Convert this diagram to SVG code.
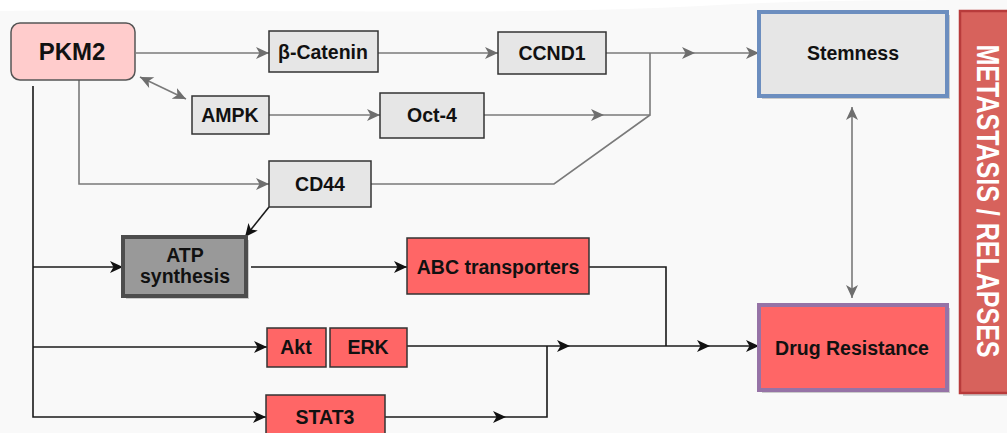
<svg xmlns="http://www.w3.org/2000/svg" width="1007" height="433" viewBox="0 0 1007 433">
<style>
.box{fill:#e6e6e6;stroke:#333;stroke-width:1.5}
.red{fill:#ff6666;stroke:#333;stroke-width:1.5}
.lbl{font-family:"Liberation Sans",Arial,sans-serif;font-weight:bold;font-size:19.5px;fill:#111;text-anchor:middle}
.g{fill:none;stroke:#7a7a7a;stroke-width:1.6}
.k{fill:none;stroke:#1a1a1a;stroke-width:1.6}
.ga{marker-end:url(#ag)}
.ka{marker-end:url(#ak)}
.shadow{fill:#b8b8b8;opacity:0.7}
</style>
<defs>
<marker id="ag" markerUnits="userSpaceOnUse" markerWidth="14" markerHeight="12" refX="13" refY="6" orient="auto">
<path d="M0,0 L13,6 L0,12 L3.5,6 Z" fill="#6e6e6e"/>
</marker>
<marker id="ags" markerUnits="userSpaceOnUse" markerWidth="14" markerHeight="12" refX="0" refY="6" orient="auto">
<path d="M13,0 L0,6 L13,12 L9.5,6 Z" fill="#6e6e6e"/>
</marker>
<marker id="ak" markerUnits="userSpaceOnUse" markerWidth="14" markerHeight="12" refX="13" refY="6" orient="auto">
<path d="M0,0 L13,6 L0,12 L3.5,6 Z" fill="#111"/>
</marker>
</defs>
<rect width="1007" height="433" fill="#ffffff"/>
<path d="M0,11 C250,9 520,16 700,6 C800,0 900,0 1007,0 L1007,433 L0,433 Z" fill="#f9f9f9"/>

<g id="connectors">
<path class="g ga" d="M136,53 H269"/>
<path class="g ga" d="M378,53 H498"/>
<path class="g ga" d="M606,53 H695"/>
<path class="g ga" d="M695,53 H759"/>
<path class="g ga" d="M140,77 L186,99" marker-start="url(#ags)"/>
<path class="g ga" d="M269,115 H380"/>
<path class="g ga" d="M484,115 H604"/>
<path class="g" d="M604,115 H650 V53"/>
<path class="g" d="M371,184 H554 L650,115"/>
<path class="g ga" d="M79,80 V184 H269"/>
<path class="g ga" d="M852,107 V298" marker-start="url(#ags)"/>
<path class="k ka" d="M269,207 L245,237"/>
<path class="k ka" d="M33,86 V417 H266"/>
<path class="k ka" d="M33,267 H123"/>
<path class="k ka" d="M33,347 H267"/>
<path class="k ka" d="M251,267 H407"/>
<path class="k" d="M589,267 H666 V346"/>
<path class="k ka" d="M407,346 H570"/>
<path class="k ka" d="M570,346 H710"/>
<path class="k ka" d="M710,346 H759"/>
<path class="k ka" d="M385,417 H506"/>
<path class="k" d="M506,417 H547 V346"/>
</g>

<g id="pkm2">
<rect x="11" y="23" width="124" height="57" rx="9" fill="#ffcccc" stroke="#555" stroke-width="1.5"/>
<text class="lbl" x="72" y="60" style="font-size:24px">PKM2</text>
</g>
<g id="bcatenin">
<rect class="box" x="269" y="31" width="109" height="41"/>
<text class="lbl" x="323" y="59">β-Catenin</text>
</g>
<g id="ccnd1">
<rect class="box" x="498" y="32" width="108" height="42"/>
<text class="lbl" x="552" y="60">CCND1</text>
</g>
<g id="ampk">
<rect class="box" x="192" y="96" width="77" height="38"/>
<text class="lbl" x="230" y="122">AMPK</text>
</g>
<g id="oct4">
<rect class="box" x="380" y="93" width="104" height="45"/>
<text class="lbl" x="432" y="122">Oct-4</text>
</g>
<g id="cd44">
<rect class="box" x="269" y="161" width="102" height="46"/>
<text class="lbl" x="320" y="191">CD44</text>
</g>
<g id="stemness">
<rect class="shadow" x="762" y="15" width="188" height="84"/>
<rect x="759" y="12" width="188" height="84" fill="#e6e6e6" stroke="#6c8ebf" stroke-width="4"/>
<text class="lbl" x="853" y="60">Stemness</text>
</g>
<g id="atp">
<rect class="shadow" x="126" y="240" width="123" height="59"/>
<rect x="123" y="237" width="123" height="59" fill="#999999" stroke="#4d4d4d" stroke-width="4"/>
<text class="lbl" x="185" y="262">ATP</text>
<text class="lbl" x="185" y="283">synthesis</text>
</g>
<g id="abc">
<rect class="red" x="407" y="238" width="182" height="56"/>
<text class="lbl" x="498" y="274">ABC transporters</text>
</g>
<g id="akt">
<rect class="red" x="267" y="328" width="59" height="39"/>
<text class="lbl" x="296" y="354">Akt</text>
</g>
<g id="erk">
<rect class="red" x="330" y="328" width="77" height="39"/>
<text class="lbl" x="368" y="354">ERK</text>
</g>
<g id="stat3">
<rect class="red" x="266" y="395" width="119" height="45"/>
<text class="lbl" x="325" y="424">STAT3</text>
</g>
<g id="drug">
<rect class="shadow" x="762" y="308" width="188" height="85"/>
<rect x="759" y="305" width="188" height="85" fill="#ff6666" stroke="#9673a6" stroke-width="4"/>
<text class="lbl" x="852" y="355">Drug Resistance</text>
</g>
<g id="metastasis">
<rect class="shadow" x="963" y="14" width="50" height="382"/>
<rect x="960" y="11" width="52" height="382" fill="#d7625c" stroke="#b83b3b" stroke-width="2.5"/>
<text transform="translate(988,201) rotate(90)" x="0" y="11.5" text-anchor="middle" font-family="Liberation Sans, Arial, sans-serif" font-weight="bold" font-size="31" fill="#ffffff" textLength="313" lengthAdjust="spacingAndGlyphs">METASTASIS / RELAPSES</text>
</g>
</svg>
